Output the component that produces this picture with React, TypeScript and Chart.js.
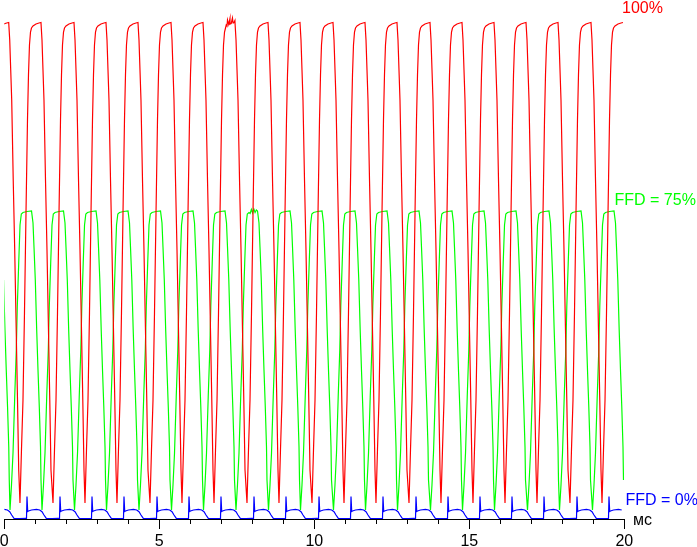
import React, { useEffect, useRef } from "react";
import { Chart, registerables } from "chart.js";

Chart.register(...registerables);

// event times, ms
// red: bottom of each dip, green: bottom of each dip, blue: the short spike
const redTroughs = [
  -0.535, 0.506, 1.571, 2.603, 3.635, 4.7, 5.732, 6.765, 7.829, 8.861, 9.926,
  10.958, 11.99, 13.055, 14.087, 15.119, 16.152, 17.184, 18.248, 19.281,
];
const greenTroughs = [
  -0.84, 0.184, 1.216, 2.265, 3.297, 4.345, 5.394, 6.426, 7.474, 8.523, 9.555,
  10.619, 11.652, 12.684, 13.748, 14.781, 15.813, 16.877, 17.91, 18.974,
];
const blueSpikes = [
  -0.31, 0.732, 1.797, 2.829, 3.861, 4.926, 5.958, 6.99, 8.055, 9.087, 10.152,
  11.184, 12.216, 13.281, 14.313, 15.345, 16.377, 17.41, 18.474, 19.506,
];

// one cycle of each trace: time after the event (ms) and level
const redShapeT = [
  0, 0.048, 0.097, 0.145, 0.194, 0.242, 0.274, 0.306, 0.339, 0.371, 0.419,
  0.516, 0.613, 0.677, 0.71, 0.742, 0.774, 0.823, 0.871, 0.919, 0.961, 1.0,
];
const redShapeV = [
  3.2, 13.8, 23.8, 41.2, 61.2, 79.8, 88.8, 94.8, 97.4, 98.2, 98.6, 99.0, 99.2,
  99.3, 95.8, 89.8, 83.8, 67.8, 53.8, 37.8, 23.8, 9.8,
];
const greenShapeT = [
  0, 0.048, 0.097, 0.152, 0.203, 0.235, 0.281, 0.323, 0.365, 0.419, 0.548,
  0.694, 0.742, 0.774, 0.816, 0.861, 0.903, 0.945, 0.984, 1.0,
];
const greenShapeV = [
  1.8, 6.8, 13.2, 24.4, 33.8, 42.4, 51.2, 58.8, 61.0, 61.3, 61.5, 61.6, 59.2,
  54.4, 47.8, 37.8, 29.8, 22.4, 14.4, 7.8,
];
const blueShapeT = [
  -0.016, 0, 0.023, 0.048, 0.145, 0.306, 0.41, 0.484, 0.548, 0.623, 0.806, 1.0,
];
const blueShapeV = [
  0.1, 4.5, 1.5, 1.6, 1.8, 1.94, 1.8, 1.46, 0.8, 0.14, 0.1, 0.14,
];

// ragged tops
const redNoiseT = [7.16, 7.2, 7.24, 7.28, 7.32, 7.36, 7.4, 7.44];
const redNoiseV = [98.8, 99.8, 98.9, 100.1, 99.1, 100.2, 99.2, 99.7];
const greenNoiseT = [7.93, 7.97, 8.01, 8.05, 8.09, 8.13];
const greenNoiseV = [61.1, 61.9, 61.2, 62.0, 61.3, 61.8];

const xLabels = [0, 5, 10, 15, 20];
const X_MAX = 20;
// last sample of the record
const T_END = 19.985;

const RED = "#ff0000";
const GREEN = "#00ff00";
const BLUE = "#0000ff";
const FONT = '"Liberation Sans", Arial, sans-serif';

function buildTrace(
  events: number[],
  shapeT: number[],
  shapeV: number[],
  extraT: number[] = [],
  extraV: number[] = []
) {
  const pts: { x: number; y: number }[] = [];
  events.forEach((t0) =>
    shapeT.forEach((dt, i) => pts.push({ x: t0 + dt, y: shapeV[i] }))
  );
  extraT.forEach((x, i) => pts.push({ x, y: extraV[i] }));
  pts.sort((a, b) => a.x - b.x);
  return pts.filter((p) => p.x <= T_END);
}

const extras = {
  id: "extras",
  afterDraw(chart: any) {
    const { ctx, chartArea, scales } = chart;
    ctx.save();
    // short ticks for every ms
    ctx.strokeStyle = "#000";
    ctx.lineWidth = 1;
    scales.x.ticks.forEach((t: any) => {
      if (xLabels.includes(t.value)) return;
      const x = Math.round(scales.x.getPixelForValue(t.value)) + 0.5;
      ctx.beginPath();
      ctx.moveTo(x, chartArea.bottom);
      ctx.lineTo(x, chartArea.bottom + 5);
      ctx.stroke();
    });
    ctx.font = "16px " + FONT;
    ctx.textBaseline = "alphabetic";
    ctx.textAlign = "left";
    ctx.fillStyle = RED;
    ctx.fillText("100%", 622, 13);
    ctx.fillStyle = GREEN;
    ctx.fillText("FFD = 75%", 614.5, 205);
    ctx.fillStyle = BLUE;
    ctx.fillText("FFD = 0%", 625.5, 505);
    ctx.fillStyle = "#000";
    ctx.fillText("мс", 633, 525);
    ctx.restore();
  },
};

export default function App() {
  const canvasRef = useRef<HTMLCanvasElement>(null);

  useEffect(() => {
    if (!canvasRef.current) return;
    const chart = new Chart(canvasRef.current, {
      type: "line",
      data: {
        datasets: [
          {
            label: "FFD = 0%",
            data: buildTrace(blueSpikes, blueShapeT, blueShapeV),
            borderColor: BLUE,
          },
          {
            label: "100%",
            data: buildTrace(
              redTroughs,
              redShapeT,
              redShapeV,
              redNoiseT,
              redNoiseV
            ),
            borderColor: RED,
          },
          {
            label: "FFD = 75%",
            data: buildTrace(
              greenTroughs,
              greenShapeT,
              greenShapeV,
              greenNoiseT,
              greenNoiseV
            ),
            borderColor: GREEN,
          },
        ],
      },
      options: {
        animation: false,
        responsive: true,
        maintainAspectRatio: false,
        layout: { padding: { top: 9, left: 4.3, right: 72.7, bottom: 0 } },
        plugins: {
          legend: { display: false },
          tooltip: { enabled: false },
        },
        elements: {
          point: { radius: 0 },
          // solid "dash" keeps Chart.js off its fast path, which leaves stubs
          line: { tension: 0, borderWidth: 1.2, borderDash: [10000, 0] },
        },
        scales: {
          x: {
            type: "linear",
            min: 0,
            max: X_MAX,
            afterFit: (s: any) => {
              s.height = 28;
              s.paddingLeft = 0;
              s.paddingRight = 0;
            },
            ticks: {
              stepSize: 1,
              autoSkip: false,
              maxRotation: 0,
              padding: 3,
              color: "#000",
              font: { family: FONT, size: 16 },
              callback: (v: any) => (xLabels.includes(v) ? String(v) : ""),
            },
            grid: {
              drawOnChartArea: false,
              tickLength: 10,
              tickWidth: 1,
              tickColor: (c: any) =>
                xLabels.includes(c.tick?.value) ? "#000" : "rgba(0,0,0,0)",
            },
            border: { color: "#000", width: 1 },
          },
          y: { display: false, min: 0, max: 102 },
        },
      },
      plugins: [extras],
    });
    return () => chart.destroy();
  }, []);

  return (
    <div
      style={{
        position: "fixed",
        left: 0,
        top: 0,
        width: 697,
        height: 547,
        background: "#fff",
      }}
    >
      <canvas ref={canvasRef} />
    </div>
  );
}
